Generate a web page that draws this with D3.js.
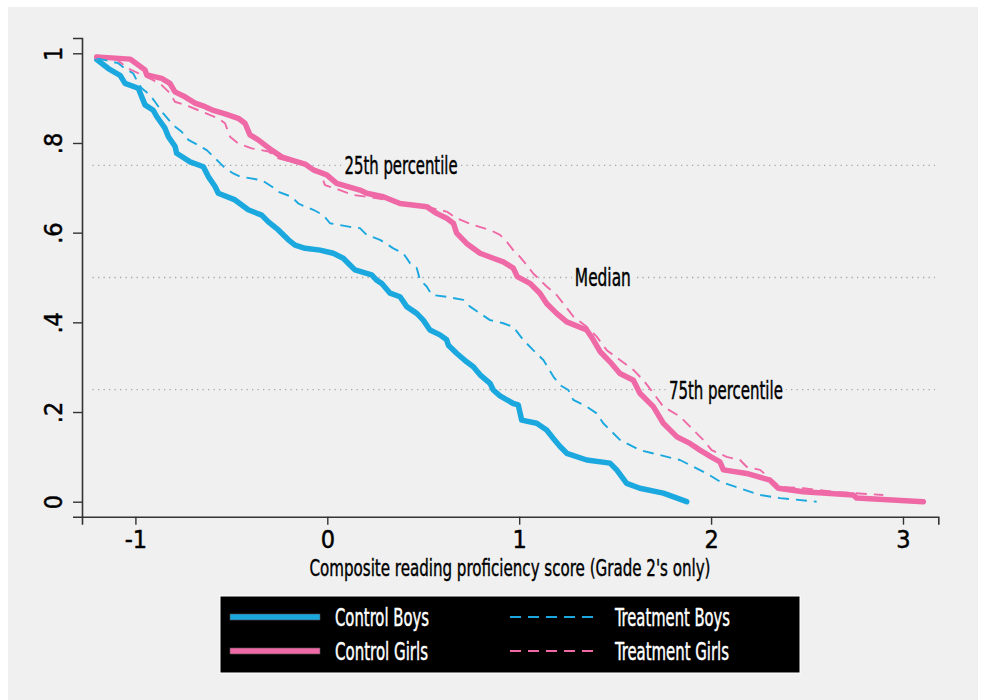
<!DOCTYPE html>
<html>
<head>
<meta charset="utf-8">
<script src="https://cdn.jsdelivr.net/npm/d3@7"></script>
<style>
  html, body { margin: 0; padding: 0; background: #ffffff; }
  svg { display: block; }
  text { font-family: "Liberation Sans Narrow", "DejaVu Sans Condensed", "Arial Narrow", sans-serif; }
</style>
</head>
<body>
<svg id="chart" width="982" height="700"></svg>
<script>
// Share of pupils scoring above each composite reading score (Grade 2 only)
const controlBoys = [
  [-1.201, 0.986], [-1.141, 0.966], [-1.080, 0.951], [-1.054, 0.933], [-0.985, 0.922],
  [-0.950, 0.885], [-0.907, 0.873], [-0.889, 0.859], [-0.846, 0.833], [-0.828, 0.814],
  [-0.793, 0.792], [-0.785, 0.777], [-0.715, 0.758], [-0.646, 0.747], [-0.620, 0.725],
  [-0.585, 0.703], [-0.568, 0.688], [-0.481, 0.673], [-0.412, 0.651], [-0.342, 0.639],
  [-0.307, 0.624], [-0.255, 0.606], [-0.203, 0.584], [-0.168, 0.572], [-0.116, 0.565],
  [-0.038, 0.561], [0.031, 0.554], [0.083, 0.543], [0.118, 0.528], [0.144, 0.517],
  [0.231, 0.506], [0.257, 0.494], [0.283, 0.487], [0.327, 0.465], [0.379, 0.457],
  [0.414, 0.435], [0.466, 0.420], [0.500, 0.405], [0.535, 0.383], [0.587, 0.372],
  [0.622, 0.361], [0.631, 0.349], [0.674, 0.331], [0.726, 0.312], [0.761, 0.301],
  [0.796, 0.283], [0.848, 0.264], [0.865, 0.249], [0.900, 0.236], [0.969, 0.219],
  [0.995, 0.216], [1.013, 0.182], [1.091, 0.175], [1.143, 0.160], [1.178, 0.141],
  [1.213, 0.123], [1.248, 0.108], [1.352, 0.093], [1.473, 0.086], [1.508, 0.071],
  [1.560, 0.041], [1.629, 0.030], [1.751, 0.019], [1.873, 0.000]
];

const controlGirls = [
  [-1.202, 0.992], [-1.028, 0.987], [-0.985, 0.974], [-0.950, 0.963], [-0.941, 0.952],
  [-0.863, 0.944], [-0.820, 0.933], [-0.794, 0.914], [-0.742, 0.903], [-0.689, 0.889],
  [-0.637, 0.881], [-0.602, 0.874], [-0.533, 0.865], [-0.464, 0.855], [-0.429, 0.844],
  [-0.403, 0.818], [-0.360, 0.807], [-0.290, 0.784], [-0.238, 0.769], [-0.186, 0.762],
  [-0.116, 0.753], [-0.073, 0.740], [-0.003, 0.729], [0.049, 0.710], [0.170, 0.695],
  [0.205, 0.688], [0.292, 0.680], [0.379, 0.665], [0.518, 0.658], [0.570, 0.643],
  [0.622, 0.632], [0.657, 0.621], [0.674, 0.599], [0.726, 0.576], [0.796, 0.554],
  [0.865, 0.543], [0.917, 0.535], [0.969, 0.521], [0.990, 0.502], [1.056, 0.487],
  [1.108, 0.465], [1.143, 0.442], [1.195, 0.420], [1.248, 0.401], [1.352, 0.383],
  [1.386, 0.361], [1.421, 0.335], [1.473, 0.312], [1.525, 0.286], [1.595, 0.271],
  [1.629, 0.242], [1.699, 0.212], [1.751, 0.175], [1.821, 0.145], [1.890, 0.130],
  [1.942, 0.115], [2.000, 0.100], [2.046, 0.089], [2.064, 0.071], [2.185, 0.063],
  [2.307, 0.048], [2.350, 0.030], [2.481, 0.022], [2.741, 0.015], [2.759, 0.008],
  [3.106, 0.000]
];

const treatmentBoys = [
  [-1.202, 0.989], [-1.089, 0.978], [-1.054, 0.966], [-1.011, 0.955], [-0.985, 0.933],
  [-0.967, 0.922], [-0.924, 0.907], [-0.898, 0.892], [-0.855, 0.866], [-0.803, 0.840],
  [-0.759, 0.825], [-0.724, 0.807], [-0.672, 0.795], [-0.628, 0.784], [-0.602, 0.773],
  [-0.559, 0.755], [-0.533, 0.744], [-0.490, 0.732], [-0.455, 0.725], [-0.342, 0.717],
  [-0.290, 0.703], [-0.255, 0.691], [-0.186, 0.680], [-0.151, 0.665], [-0.116, 0.658],
  [-0.073, 0.651], [-0.021, 0.639], [0.014, 0.621], [0.118, 0.613], [0.170, 0.610],
  [0.205, 0.595], [0.275, 0.584], [0.344, 0.565], [0.396, 0.554], [0.431, 0.532],
  [0.466, 0.521], [0.483, 0.495], [0.518, 0.480], [0.544, 0.461], [0.622, 0.457],
  [0.709, 0.450], [0.744, 0.435], [0.796, 0.420], [0.848, 0.405], [0.917, 0.398],
  [0.969, 0.390], [1.021, 0.361], [1.073, 0.338], [1.126, 0.316], [1.178, 0.279],
  [1.213, 0.260], [1.256, 0.249], [1.282, 0.227], [1.352, 0.212], [1.404, 0.197],
  [1.438, 0.175], [1.473, 0.160], [1.525, 0.138], [1.629, 0.115], [1.734, 0.104],
  [1.838, 0.093], [1.907, 0.078], [1.977, 0.063], [2.046, 0.045], [2.151, 0.030],
  [2.255, 0.015], [2.359, 0.008], [2.550, 0.000]
];

const treatmentGirls = [
  [-1.202, 0.992], [-1.106, 0.989], [-1.037, 0.966], [-0.967, 0.952], [-0.907, 0.940],
  [-0.863, 0.929], [-0.820, 0.911], [-0.794, 0.892], [-0.742, 0.885], [-0.654, 0.870],
  [-0.568, 0.855], [-0.533, 0.844], [-0.507, 0.814], [-0.464, 0.799], [-0.394, 0.788],
  [-0.307, 0.781], [-0.255, 0.766], [-0.186, 0.758], [-0.125, 0.751], [-0.055, 0.740],
  [-0.029, 0.725], [-0.012, 0.706], [0.066, 0.695], [0.135, 0.684], [0.205, 0.680],
  [0.310, 0.673], [0.431, 0.662], [0.552, 0.654], [0.622, 0.647], [0.674, 0.632],
  [0.761, 0.617], [0.848, 0.606], [0.900, 0.595], [0.935, 0.580], [0.969, 0.561],
  [1.004, 0.546], [1.039, 0.528], [1.073, 0.509], [1.143, 0.480], [1.195, 0.461],
  [1.230, 0.442], [1.282, 0.413], [1.352, 0.390], [1.404, 0.368], [1.456, 0.338],
  [1.525, 0.316], [1.595, 0.294], [1.647, 0.271], [1.699, 0.242], [1.751, 0.212],
  [1.838, 0.190], [1.907, 0.160], [1.959, 0.138], [2.003, 0.115], [2.081, 0.100],
  [2.151, 0.093], [2.185, 0.078], [2.255, 0.071], [2.359, 0.033], [2.481, 0.030],
  [2.637, 0.022], [2.897, 0.015]
];

const xTicks = [-1, 0, 1, 2, 3];
const xTickLabels = ["-1", "0", "1", "2", "3"];
const yTicks = [0, 0.2, 0.4, 0.6, 0.8, 1];
const yTickLabels = ["0", ".2", ".4", ".6", ".8", "1"];
const refLevels = [0.75, 0.5, 0.25];
const refLabels = ["25th percentile", "Median", "75th percentile"];
const refLabelX = [0.09, 1.29, 1.78];
const seriesNames = ["Control Boys", "Control Girls", "Treatment Boys", "Treatment Girls"];
const xTitle = "Composite reading proficiency score (Grade 2's only)";

const BLUE = "#1aa8df";
const PINK = "#ef69a6";
const BG = "#f0f0f0";

const svg = d3.select("#chart");

// page background
svg.append("rect").attr("x", 8).attr("y", 7).attr("width", 970).attr("height", 693).attr("fill", BG);

const x = d3.scaleLinear().domain([-1.2783, 3.184]).range([82, 938.3]);
const y = d3.scaleLinear().domain([-0.03345, 1.0341]).range([516.7, 38]);

// slightly heavier glyphs for all labels
function heavy(sel, color, w) {
  sel.attr("fill", color).attr("stroke", color).attr("stroke-width", w).attr("stroke-linejoin", "round");
}

// dotted reference lines
const refG = svg.append("g");
refLevels.forEach((lv) => {
  refG.append("line")
    .attr("x1", 92.5).attr("x2", 935)
    .attr("y1", y(lv)).attr("y2", y(lv))
    .attr("stroke", "#a8a8a8").attr("stroke-width", 1.4)
    .attr("stroke-dasharray", "1.3,4.2");
});

// axes
const xAxis = d3.axisBottom(x).tickValues(xTicks).tickFormat((d, i) => xTickLabels[i]).tickSize(8).tickPadding(6);
const yAxis = d3.axisLeft(y).tickValues(yTicks).tickFormat((d, i) => yTickLabels[i]).tickSize(9).tickPadding(11);

const gx = svg.append("g").attr("transform", `translate(0,${y.range()[0]})`).call(xAxis);
const gy = svg.append("g").attr("transform", `translate(${x.range()[0]},0)`).call(yAxis);

[gx, gy].forEach(g => {
  g.select(".domain").attr("stroke", "#333").attr("stroke-width", 1.6);
  g.selectAll(".tick line").attr("stroke", "#333").attr("stroke-width", 1.4);
  g.selectAll(".tick text").attr("font-size", 25).call(heavy, "#000", 0.45);
});
gx.selectAll(".tick text").attr("dy", "0.71em");
gy.selectAll(".tick text")
  .attr("text-anchor", "middle")
  .attr("x", null).attr("dy", null)
  .attr("transform", "translate(-20,0) rotate(-90)");

// x axis title
svg.append("text")
  .attr("x", 510).attr("y", 576)
  .attr("text-anchor", "middle")
  .attr("font-size", 23)
  .attr("textLength", 401).attr("lengthAdjust", "spacingAndGlyphs")
  .call(heavy, "#000", 0.4)
  .text(xTitle);

// survival curves
const line = d3.line().x(d => x(d[0])).y(d => y(d[1]));
const curves = [
  { data: controlBoys, color: BLUE, width: 5.5, dash: null },
  { data: controlGirls, color: PINK, width: 5.5, dash: null },
  { data: treatmentBoys, color: BLUE, width: 1.9, dash: "11,7" },
  { data: treatmentGirls, color: PINK, width: 1.9, dash: "11,7" }
];
const plotG = svg.append("g");
curves.forEach(c => {
  plotG.append("path")
    .attr("d", line(c.data))
    .attr("fill", "none")
    .attr("stroke", c.color)
    .attr("stroke-width", c.width)
    .attr("stroke-linejoin", "round")
    .attr("stroke-linecap", c.dash ? "butt" : "round")
    .attr("stroke-dasharray", c.dash);
});

// reference labels, each on a background patch that breaks the dotted line
const refWidths = [113, 56, 114];
refLevels.forEach((lv, i) => {
  const lx = x(refLabelX[i]);
  refG.append("rect")
    .attr("x", lx - 3).attr("y", y(lv) - 8)
    .attr("width", refWidths[i] + 6).attr("height", 16)
    .attr("fill", BG);
  svg.append("text")
    .attr("x", lx).attr("y", y(lv) + 9)
    .attr("font-size", 24)
    .attr("textLength", refWidths[i]).attr("lengthAdjust", "spacingAndGlyphs")
    .call(heavy, "#000", 0.45)
    .text(refLabels[i]);
});

// legend
const lg = svg.append("g");
lg.append("rect").attr("x", 220).attr("y", 596).attr("width", 580).attr("height", 77)
  .attr("fill", "#000").attr("stroke", "#fff").attr("stroke-width", 1);
const legendItems = [
  { name: seriesNames[0], color: BLUE, dash: null, col: 0, row: 0, w: 94 },
  { name: seriesNames[1], color: PINK, dash: null, col: 0, row: 1, w: 93 },
  { name: seriesNames[2], color: BLUE, dash: "11,7", col: 1, row: 0, w: 115 },
  { name: seriesNames[3], color: PINK, dash: "11,7", col: 1, row: 1, w: 114 }
];
legendItems.forEach(it => {
  const kx = it.col === 0 ? 230 : 510;
  const ky = it.row === 0 ? 617 : 651;
  if (it.dash) {
    lg.append("line").attr("x1", kx).attr("x2", kx + 90).attr("y1", ky).attr("y2", ky)
      .attr("stroke", it.color).attr("stroke-width", 1.9).attr("stroke-dasharray", it.dash);
  } else {
    lg.append("rect").attr("x", kx).attr("y", ky - 3).attr("width", 90).attr("height", 6)
      .attr("fill", it.color).attr("stroke", "#555").attr("stroke-width", 0.6);
  }
  lg.append("text")
    .attr("x", kx + 105).attr("y", ky + 8.5)
    .attr("font-size", 24)
    .attr("textLength", it.w).attr("lengthAdjust", "spacingAndGlyphs")
    .call(heavy, "#fff", 0.45)
    .text(it.name);
});
</script>
</body>
</html>
